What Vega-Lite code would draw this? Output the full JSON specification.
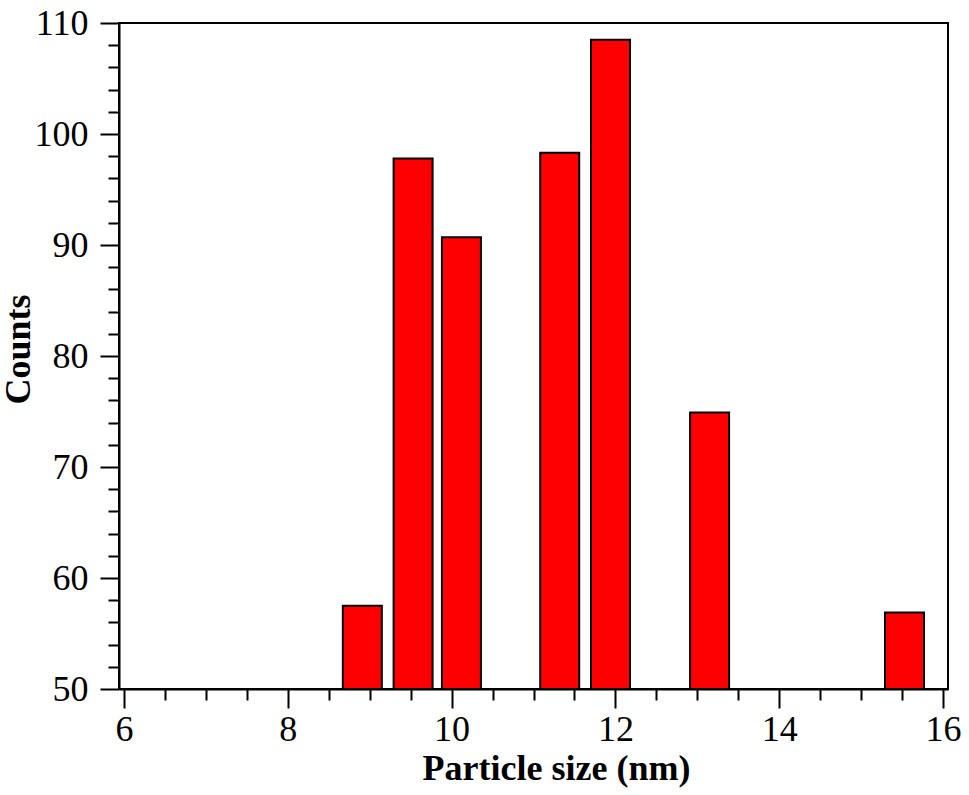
{
  "$schema": "https://vega.github.io/schema/vega-lite/v6.json",
  "autosize": {"type": "none"},
  "padding": {"left": 119, "top": 23, "right": 21, "bottom": 106},
  "width": 829,
  "height": 666,
  "config": {
    "view": {"stroke": "black", "strokeWidth": 2},
    "font": "Liberation Serif",
    "axis": {
      "domainColor": "black",
      "domainWidth": 2,
      "tickColor": "black",
      "tickWidth": 2,
      "labelColor": "black",
      "titleColor": "black",
      "labelFont": "Liberation Serif",
      "titleFont": "Liberation Serif",
      "labelFontSize": 36,
      "titleFontSize": 36,
      "titleFontWeight": "bold",
      "grid": false,
      "labelOverlap": false,
      "labelFlush": false
    }
  },
  "data": {
    "values": [
      {"size": 8.91, "count": 57.5},
      {"size": 9.53, "count": 97.8},
      {"size": 10.12, "count": 90.7},
      {"size": 11.32, "count": 98.3},
      {"size": 11.94, "count": 108.5},
      {"size": 13.15, "count": 74.9},
      {"size": 15.53, "count": 56.9}
    ]
  },
  "layer": [
    {
      "mark": {"type": "point", "opacity": 0},
      "encoding": {
        "x": {
          "field": "size",
          "type": "quantitative",
          "scale": {"domain": [6, 16], "nice": false, "zero": false},
          "axis": {
            "orient": "bottom",
            "title": null,
            "labels": false,
            "domain": false,
            "tickSize": 11,
            "values": [6.5, 7, 7.5, 8.5, 9, 9.5, 10.5, 11, 11.5, 12.5, 13, 13.5, 14.5, 15, 15.5]
          }
        },
        "y": {
          "field": "count",
          "type": "quantitative",
          "scale": {"domain": [50, 110], "nice": false, "zero": false},
          "axis": {
            "orient": "left",
            "title": null,
            "labels": false,
            "domain": false,
            "tickSize": 11,
            "values": [52, 54, 56, 58, 62, 64, 66, 68, 72, 74, 76, 78, 82, 84, 86, 88, 92, 94, 96, 98, 102, 104, 106, 108]
          }
        }
      }
    },
    {
      "mark": {"type": "bar", "size": 39, "fill": "#ff0000", "stroke": "black", "strokeWidth": 2},
      "encoding": {
        "x": {
          "field": "size",
          "type": "quantitative",
          "axis": {
            "orient": "bottom",
            "title": "Particle size (nm)",
            "values": [6, 8, 10, 12, 14, 16],
            "format": "d",
            "tickSize": 19,
            "labelPadding": 4,
            "titlePadding": 4,
            "titleX": 437
          }
        },
        "y": {
          "field": "count",
          "type": "quantitative",
          "axis": {
            "orient": "left",
            "title": "Counts",
            "values": [50, 60, 70, 80, 90, 100, 110],
            "format": "d",
            "tickSize": 19,
            "labelPadding": 12,
            "titlePadding": -3,
            "titleY": 326
          }
        },
        "y2": {"datum": 50}
      }
    }
  ],
  "resolve": {"axis": {"x": "independent", "y": "independent"}}
}
